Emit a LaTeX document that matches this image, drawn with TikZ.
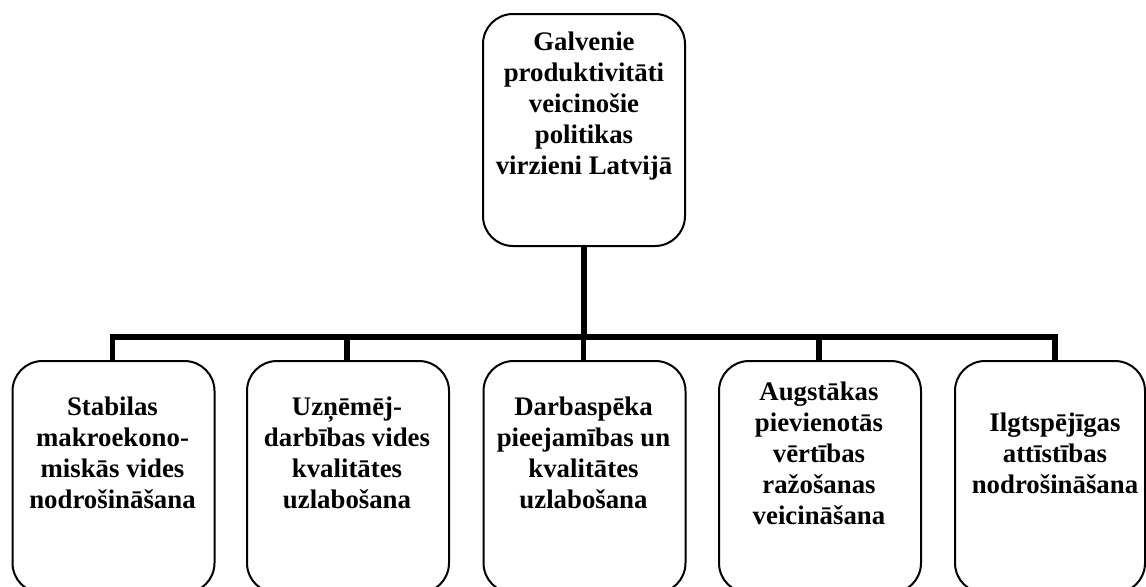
\documentclass[tikz,border=0pt]{standalone}
\usepackage{fontspec}
\setmainfont{Liberation Serif}
\tikzset{
  box/.style={draw, line width=1pt, rounded corners=15pt, minimum width=101pt, minimum height=116pt},
  boxtext/.style={align=center, font=\fontsize{13.4}{15.5}\selectfont\bfseries},
  link/.style={line width=2.6pt},
}
\begin{document}
\begin{tikzpicture}[x=0.5pt, y=-0.5pt]
\useasboundingbox (0,0) rectangle (1146,586);
\clip (0,0) rectangle (1146,586);
\node[box] (goal) at (584,130) {};
\node[boxtext] (goaltext) at (584,106) {Galvenie\\produktivitāti\\veicinošie\\politikas\\virzieni Latvijā};
\foreach \i/\x/\w/\txt in {1/112.5/202/{Stabilas\\makroekono-\\miskās vides\\nodrošināšana},
    2/347/202/{Uzņēmēj-\\darbības vides\\kvalitātes\\uzlabošana},
    3/583.5/202/{Darbaspēka\\pieejamības un\\kvalitātes\\uzlabošana},
    4/819/202/{Augstākas\\pievienotās\\vērtības\\ražošanas\\veicināšana},
    5/1055/190/{Ilgtspējīgas\\attīstības\\nodrošināšana}} {
    \node[box, anchor=west, minimum width={\w*0.5pt}] (dir\i) at (\x-101,477) {};
    \node[boxtext] (lbl\i) at (\x,453) {\txt};
}
\coordinate (bar) at (584,337);
\draw[link] (goal.south) -- (bar);
\draw[link] (lbl1 |- dir1.north) |- (bar) -| (lbl5 |- dir5.north);
\foreach \i in {2,3,4}
    \draw[link] (lbl\i |- bar) -- (lbl\i |- dir\i.north);
\end{tikzpicture}
\end{document}
